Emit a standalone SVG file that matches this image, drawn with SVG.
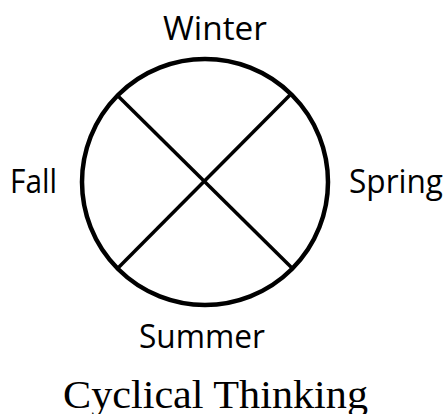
<svg xmlns="http://www.w3.org/2000/svg" width="447" height="414" viewBox="0 0 447 414">
<style>
.lbl{font-family:"Open Sans","Liberation Sans",sans-serif;font-size:32px;fill:#000}
.ttl{font-family:"Liberation Serif","DejaVu Serif",serif;font-size:39px;fill:#000}
.ring{fill:none;stroke:#000;stroke-width:4.5}
.ln{stroke:#000;stroke-width:3.5;fill:none}
</style>
<rect width="447" height="414" fill="#fff"/>
<g id="cycle">
<circle class="ring" cx="205" cy="182" r="123"/>
</g>
<g id="connectors">
<line class="ln" x1="117" y1="95" x2="292" y2="268"/>
<line class="ln" x1="290" y1="95" x2="118" y2="268"/>
</g>
<g id="winter"><text class="lbl" x="163" y="40" textLength="104" lengthAdjust="spacingAndGlyphs">Winter</text></g>
<g id="fall"><text class="lbl" x="10" y="193" textLength="47" lengthAdjust="spacingAndGlyphs">Fall</text></g>
<g id="spring"><text class="lbl" x="349" y="193" textLength="94" lengthAdjust="spacingAndGlyphs">Spring</text></g>
<g id="summer"><text class="lbl" x="139" y="348" textLength="126" lengthAdjust="spacingAndGlyphs">Summer</text></g>
<g id="title"><text class="ttl" x="63" y="408" textLength="305" lengthAdjust="spacingAndGlyphs">Cyclical Thinking</text></g>
</svg>
